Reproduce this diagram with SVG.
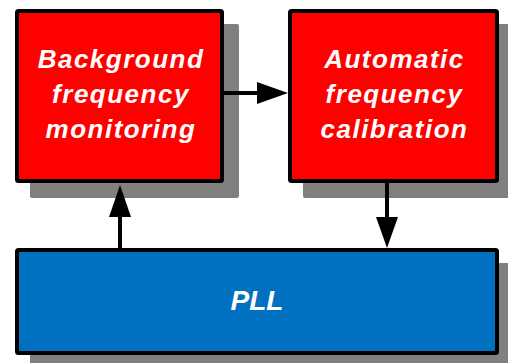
<svg xmlns="http://www.w3.org/2000/svg" width="508" height="363" viewBox="0 0 508 363">
<style>
.shadow{fill:#808080;}
.box{stroke:#000;stroke-width:4;}
.red{fill:#FF0000;}
.blue{fill:#0070C0;}
.lbl{font-family:"Liberation Sans",Arial,sans-serif;font-weight:bold;font-style:italic;font-size:26px;fill:#fff;text-anchor:middle;letter-spacing:1.5px;}
.pll{font-family:"Liberation Sans",Arial,sans-serif;font-weight:bold;font-style:italic;font-size:28px;fill:#fff;text-anchor:middle;}
.conn line{stroke:#000;stroke-width:4;}
.conn polygon{fill:#000;}
</style>
<rect width="508" height="363" fill="#fff"/>
<g id="bg-monitor">
<rect class="shadow" x="30" y="24" width="209" height="174" rx="2"/>
<rect class="box red" x="17" y="11" width="205" height="170" rx="1.5"/>
<text class="lbl" x="121" y="68">Background</text>
<text class="lbl" x="121" y="103">frequency</text>
<text class="lbl" x="121" y="137.5">monitoring</text>
</g>
<g id="auto-cal">
<rect class="shadow" x="303" y="24" width="211" height="174" rx="2"/>
<rect class="box red" x="290" y="11" width="207" height="170" rx="1.5"/>
<text class="lbl" x="394.5" y="68">Automatic</text>
<text class="lbl" x="394.5" y="103">frequency</text>
<text class="lbl" x="394.5" y="137.5">calibration</text>
</g>
<g id="pll">
<rect class="shadow" x="30" y="263" width="484" height="107" rx="2"/>
<rect class="box blue" x="17" y="250" width="480" height="103" rx="1.5"/>
<text class="pll" x="257" y="310">PLL</text>
</g>
<g id="connectors" class="conn">
<line x1="120" y1="248" x2="120" y2="212"/>
<polygon points="109,217 131,217 120,185"/>
<line x1="387" y1="183" x2="387" y2="220"/>
<polygon points="376,217 398,217 387,248"/>
<line x1="224" y1="93" x2="260" y2="93"/>
<polygon points="257,82 257,104 288,93"/>
</g>
</svg>
